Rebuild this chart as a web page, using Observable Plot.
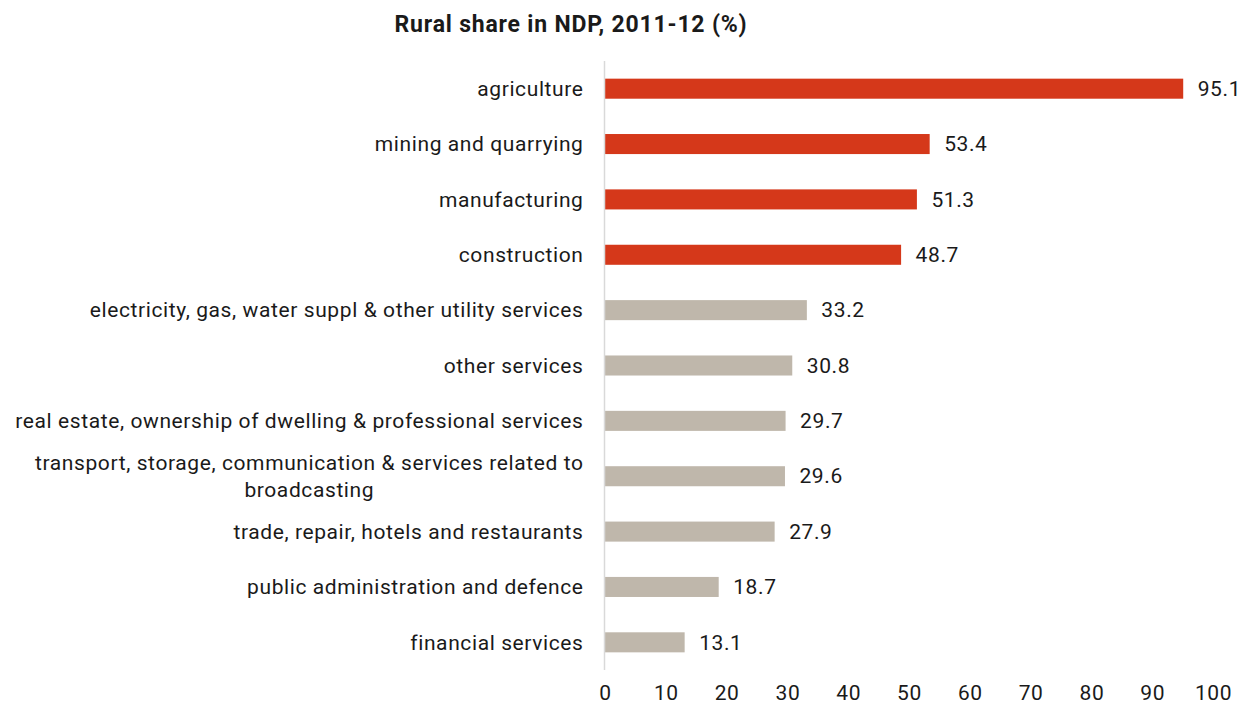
<!DOCTYPE html>
<html><head><meta charset="utf-8">
<script src="https://cdn.jsdelivr.net/npm/d3@7"></script>
<script src="https://cdn.jsdelivr.net/npm/@observablehq/plot@0.6"></script>
<style>
body{margin:0;background:#fff;font-family:Roboto,sans-serif;}
#title{height:50px;line-height:50px;font-weight:bold;font-size:23px;letter-spacing:0.8px;text-align:center;width:1142px;color:#1a1a1a}
#chart svg text{letter-spacing:0.6px}
</style></head><body>
<div id="title">Rural share in NDP, 2011-12 (%)</div>
<div id="chart"></div>
<script>
const categories = [
  "agriculture",
  "mining and quarrying",
  "manufacturing",
  "construction",
  "electricity, gas, water suppl & other utility services",
  "other services",
  "real estate, ownership of dwelling & professional services",
  "transport, storage, communication & services related to broadcasting",
  "trade, repair, hotels and restaurants",
  "public administration and defence",
  "financial services"
];
const values = [95.1, 53.4, 51.3, 48.7, 33.2, 30.8, 29.7, 29.6, 27.9, 18.7, 13.1];
const groups = ["highlight","highlight","highlight","highlight","other","other","other","other","other","other","other"];
const xTicks = [0,10,20,30,40,50,60,70,80,90,100];
const wrappedLabels = {
  "transport, storage, communication & services related to broadcasting":
    "transport, storage, communication & services related to\nbroadcasting"
};

const data = categories.map((c,i)=>({category:c, value:values[i], group:groups[i]}));

const chart = Plot.plot({
  width:1242, height:656,
  marginLeft:605, marginRight:29, marginTop:11, marginBottom:36,
  style:{fontFamily:"Roboto, sans-serif", fontSize:"21px", color:"#1a1a1a", background:"#fff"},
  x:{domain:[0,100], label:null},
  y:{domain:categories, paddingInner:0.638, paddingOuter:0.319, round:false, label:null},
  color:{domain:["highlight","other"], range:["#D5381A","#BFB7AB"]},
  marks:[
    Plot.barX(data, {x:"value", y:"category", fill:"group"}),
    Plot.ruleX([0], {stroke:"#d9d9d9", strokeWidth:1.5, dx:-1}),
    Plot.text(data, {x:"value", y:"category", text:d=>d.value.toFixed(1), textAnchor:"start", dx:14, fill:"#1a1a1a", fontSize:21}),
    Plot.axisX({ticks:xTicks, tickSize:0, tickPadding:15, fontSize:21, label:null, fill:"#1a1a1a"}),
    Plot.axisY({tickSize:0, tickPadding:22, fontSize:21, lineHeight:1.3, dy:-2, label:null, fill:"#1a1a1a",
      tickFormat:d=>wrappedLabels[d] || d})
  ]
});
document.getElementById("chart").appendChild(chart);

// center multi-line y labels as a block (like the reference)
chart.querySelectorAll("text").forEach(t=>{
  const spans = t.querySelectorAll("tspan");
  if (spans.length > 1) {
    const w = Math.max(...Array.from(spans).map(s=>s.getComputedTextLength()));
    t.setAttribute("text-anchor","middle");
    spans.forEach(s=>{
      const x0 = parseFloat(s.getAttribute("x") || 0);
      s.setAttribute("x", x0 - w/2);
    });
  }
});
</script>
</body></html>
